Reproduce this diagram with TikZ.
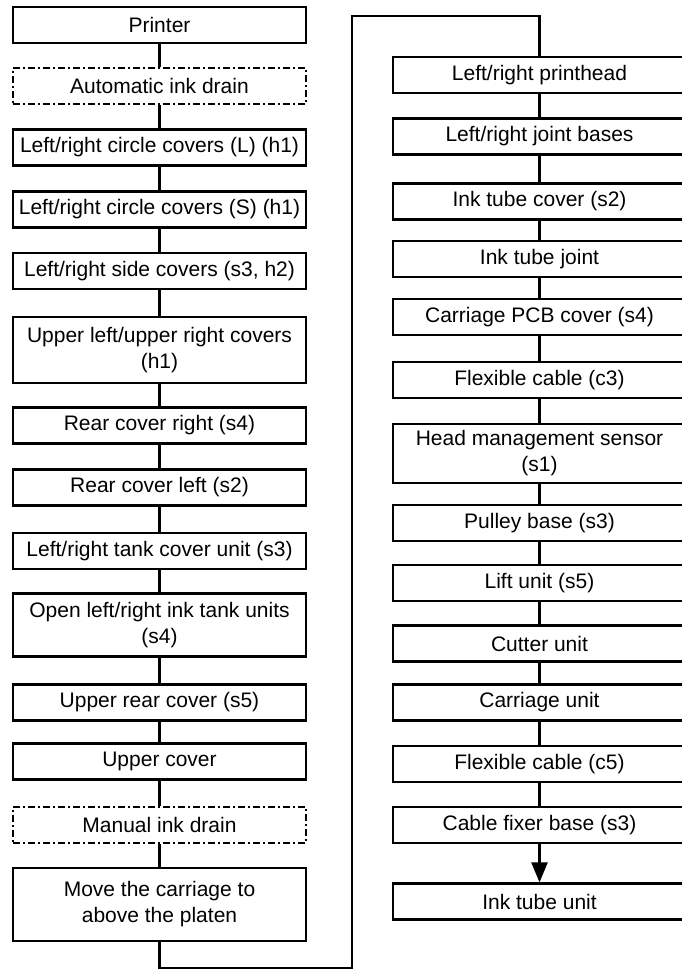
\documentclass[tikz,border=0pt]{standalone}
\usepackage{fontspec}
\setmainfont{Liberation Sans}
\usetikzlibrary{arrows.meta}

\begin{document}
\begin{tikzpicture}[x=1pt,y=-1pt,
  box/.style={draw,line width=2.2pt,minimum width=293pt,minimum height=36pt,
    inner xsep=2pt,inner ysep=0pt,align=center,font=\fontsize{21}{26}\selectfont},
  dashbox/.style={box,dash pattern=on 7pt off 3pt on 2pt off 3pt},
  link/.style={line width=2.2pt}]

% ---------- Parameter (Spalten) ----------
\def\colL{159.5}
\def\colR{539.5}

\useasboundingbox (0,0) rectangle (681,971);

% ===================
% linke Spalte
% ===================
\node[box] (printer) at (\colL,25) {Printer};
\node[dashbox] (autodrain) at (\colL,86) {Automatic ink drain};
\node[box] (circleL) at (\colL,147.5) {Left/right circle covers (L) (h1)};
\node[box] (circleS) at (\colL,209.5) {Left/right circle covers (S) (h1)};
\node[box] (sidecov) at (\colL,271) {Left/right side covers (s3, h2)};
\node[box,minimum height=66pt] (uppercov) at (\colL,350) {Upper left/upper right covers\\(h1)};
\node[box] (rearR) at (\colL,425.5) {Rear cover right (s4)};
\node[box] (rearL) at (\colL,487.5) {Rear cover left (s2)};
\node[box] (tankcov) at (\colL,551) {Left/right tank cover unit (s3)};
\node[box,minimum height=63pt] (tankunit) at (\colL,625) {Open left/right ink tank units\\(s4)};
\node[box] (uprear) at (\colL,702.5) {Upper rear cover (s5)};
\node[box] (upcover) at (\colL,761.5) {Upper cover};
\node[dashbox] (mandrain) at (\colL,825) {Manual ink drain};
\node[box,minimum height=73pt] (movecar) at (\colL,904.5) {Move the carriage to\\above the platen};

\draw[link] (printer) -- (autodrain);
\draw[link] (autodrain) -- (circleL);
\draw[link] (circleL) -- (circleS);
\draw[link] (circleS) -- (sidecov);
\draw[link] (sidecov) -- (uppercov);
\draw[link] (uppercov) -- (rearR);
\draw[link] (rearR) -- (rearL);
\draw[link] (rearL) -- (tankcov);
\draw[link] (tankcov) -- (tankunit);
\draw[link] (tankunit) -- (uprear);
\draw[link] (uprear) -- (upcover);
\draw[link] (upcover) -- (mandrain);
\draw[link] (mandrain) -- (movecar);

% ===================
% rechte Spalte
% ===================
\node[box] (printhead) at (\colR,75) {Left/right printhead};
\node[box] (jointbase) at (\colR,136.5) {Left/right joint bases};
\node[box] (tubecov) at (\colR,201.5) {Ink tube cover (s2)};
\node[box] (tubejoint) at (\colR,259) {Ink tube joint};
\node[box] (pcbcov) at (\colR,317) {Carriage PCB cover (s4)};
\node[box] (flexA) at (\colR,380) {Flexible cable (c3)};
\node[box,minimum height=59pt] (headsens) at (\colR,453.5) {Head management sensor\\(s1)};
\node[box] (pulley) at (\colR,523) {Pulley base (s3)};
\node[box] (lift) at (\colR,583) {Lift unit (s5)};
\node[box] (cutter) at (\colR,643.5) {Cutter unit};
\node[box] (carriage) at (\colR,702.5) {Carriage unit};
\node[box] (flexB) at (\colR,764) {Flexible cable (c5)};
\node[box] (fixer) at (\colR,825) {Cable fixer base (s3)};
\node[box] (tubeunit) at (\colR,901.5) {Ink tube unit};

\draw[link] (printhead) -- (jointbase);
\draw[link] (jointbase) -- (tubecov);
\draw[link] (tubecov) -- (tubejoint);
\draw[link] (tubejoint) -- (pcbcov);
\draw[link] (pcbcov) -- (flexA);
\draw[link] (flexA) -- (headsens);
\draw[link] (headsens) -- (pulley);
\draw[link] (pulley) -- (lift);
\draw[link] (lift) -- (cutter);
\draw[link] (cutter) -- (carriage);
\draw[link] (carriage) -- (flexB);
\draw[link] (flexB) -- (fixer);
\draw[link,-{Triangle[length=20pt,width=16pt]}] (fixer) -- (tubeunit);

% Verbindung linke -> rechte Spalte
\coordinate (loopB) at (352,968);
\coordinate (loopT) at (352,16);
\draw[link] (movecar.south) |- (loopB) -- (loopT) -| (printhead.north);

\end{tikzpicture}
\end{document}
